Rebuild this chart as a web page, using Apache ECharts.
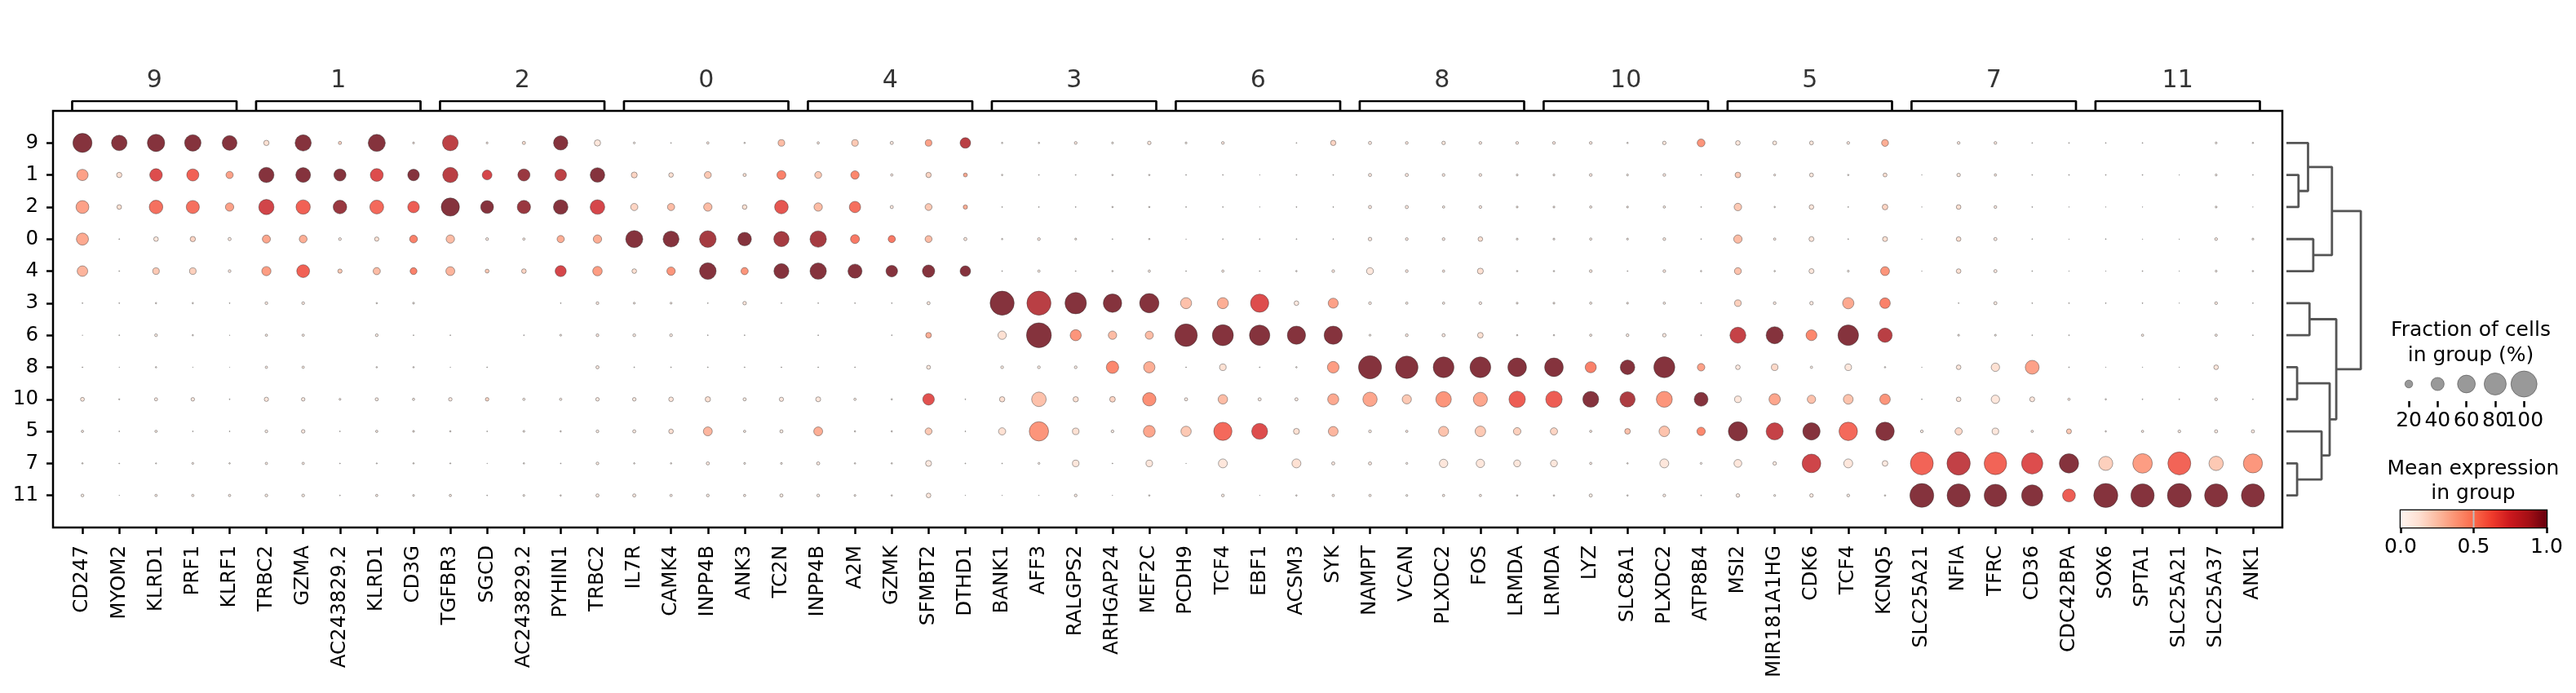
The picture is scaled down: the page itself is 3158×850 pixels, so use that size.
<!DOCTYPE html>
<html>
<head>
<meta charset="utf-8">
<script src="https://cdn.jsdelivr.net/npm/echarts@6/dist/echarts.min.js"></script>
<style>html,body{margin:0;padding:0;background:#fff}#c{width:3158px;height:850px}</style>
</head>
<body>
<div id="c"></div>
<script>
// ---------------- DATA ----------------
const genes = ['CD247','MYOM2','KLRD1','PRF1','KLRF1','TRBC2','GZMA','AC243829.2','KLRD1','CD3G','TGFBR3','SGCD','AC243829.2','PYHIN1','TRBC2','IL7R','CAMK4','INPP4B','ANK3','TC2N','INPP4B','A2M','GZMK','SFMBT2','DTHD1','BANK1','AFF3','RALGPS2','ARHGAP24','MEF2C','PCDH9','TCF4','EBF1','ACSM3','SYK','NAMPT','VCAN','PLXDC2','FOS','LRMDA','LRMDA','LYZ','SLC8A1','PLXDC2','ATP8B4','MSI2','MIR181A1HG','CDK6','TCF4','KCNQ5','SLC25A21','NFIA','TFRC','CD36','CDC42BPA','SOX6','SPTA1','SLC25A21','SLC25A37','ANK1'];
const geneGroupLabels = ['9','1','2','0','4','3','6','8','10','5','7','11'];
const geneGroupStart = [0,5,10,15,20,25,30,35,40,45,50,55];
const geneGroupEnd   = [4,9,14,19,24,29,34,39,44,49,54,59];
const rowGroups = ['9','1','2','0','4','3','6','8','10','5','7','11'];

// fraction of cells in group (%) per row group
const fraction = [
 [66,50,58,54,47, 12,53,6,57,3, 51,3,6,45,15, 3,1,4,2,16, 4,16,6,16,30, 2,2,5,3,7, 3,5,0,1,12, 6,5,7,5,5, 5,5,2,7,20, 10,8,8,5,17, 0,5,5,1,1, 1,1,0,3,2],
 [33,12,38,36,18, 49,47,36,39,34, 49,27,36,34,46, 14,10,17,6,24, 17,22,4,12,8, 2,1,1,2,2, 1,1,0.5,1,1, 6,6,5,5,3, 3,5,3,5,1, 13,3,8,2,8, 0.5,7,4,1,1, 1,1,0.5,3,1],
 [39,10,42,40,22, 49,45,42,43,34, 62,39,41,46,46, 18,18,22,10,42, 22,33,6,17,9, 1,1,1,2,2, 1,1,0.5,1,1, 6,6,4,5,3, 3,4,3,4,1, 19,2,10,1,13, 0.5,10,5,1,0.5, 0.5,0.5,0,3,0.5],
 [36,1,10,12,6, 21,20,5,9,20, 22,5,4,18,22, 57,52,55,42,49, 54,24,18,17,6, 2,5,3,1,2, 0.5,1,1,1,1, 7,5,5,10,3, 3,4,3,5,1, 22,4,11,1,11, 0.5,10,6,1,0.5, 1,0.5,0.5,5,3],
 [30,1,16,16,5, 25,39,9,18,17, 24,8,10,32,26, 10,22,55,18,48, 54,44,34,37,30, 1,4,1,2,4, 1,4,1,2,5, 17,5,4,14,2, 2,5,1,5,2, 17,2,11,3,24, 0.5,10,6,1,0.5, 0.5,1,0.5,3,2],
 [1,1,2,2,1, 5,5,0,2,3, 0,0,0,1,5, 3,3,1,7,1, 1,1,1,6,0, 90,90,77,63,67, 32,32,62,10,28, 5,4,4,5,3, 3,4,3,4,1, 16,5,7,33,30, 0,1,6,1,1, 1,1,0.5,5,1],
 [0.5,1,5,2,0.5, 4,4,0,5,1, 1,0,1,3,5, 5,5,1,1,0, 1,0,1,13,0, 22,94,32,22,21, 82,75,72,62,62, 3,5,6,13,2, 2,4,5,7,1, 52,57,31,73,45, 0,3,3,1,1, 0,4,0,4,1],
 [1,0.5,2,0.5,0.3, 4,4,0,2,2, 0.5,1,0,0,6, 1,1,1,1,1, 1,1,0,8,0, 5,5,5,37,33, 1,16,1,2,34, 85,82,74,74,64, 64,32,46,75,19, 10,16,4,16,2, 0.5,10,22,43,1, 0.5,0.5,0.5,10,0],
 [8,1.5,6,7,1, 9,7,3,6,4, 7,7,4,4,7, 7,10,12,6,9, 11,4,2,34,1, 12,46,12,13,41, 6,26,6,6,32, 45,25,50,44,54, 54,52,49,52,43, 16,33,22,27,30, 1,10,22,11,4, 2,1,1,5,1],
 [4,1,4,1,1, 5,7,1,4,3, 2,1,3,2,5, 6,10,24,4,6, 24,2,2,17,1, 18,67,16,5,35, 29,62,52,14,27, 5,4,28,30,19, 18,4,13,30,22, 66,57,58,63,63, 5,18,16,4,11, 2,4,5,6,6],
 [2,1,1.5,3,2, 4,4,1,1.5,2, 1.5,0.5,2,1,5, 2,2,6,3,3, 6,2,2,14,1, 1,3,16,1,16, 0.5,24,0,24,6, 6,3,22,22,17, 17,4,2,24,3, 20,7,64,24,13, 84,86,82,76,67, 44,68,84,45,66],
 [5,0.5,4,4,4, 5,5,1,4,3, 4,1,3,2,6, 6,4,5,4,6, 5,3,2,10,0.5, 0.5,0.5,5,0.5,2, 0,5,0.5,2,4, 4,3,4,4,2, 2,6,2,5,1, 7,3,7,5,2, 89,85,82,76,39, 90,86,89,85,85]
];
// mean expression in group (scaled 0..1) per row group
const meanExpr = [
 [1,1,1,1,1, 0.15,1,0.2,1,0.1, 0.85,0.1,0.15,1,0.12, 0.05,0.05,0.1,0.05,0.3, 0.1,0.25,0.1,0.4,0.87, 0.05,0.05,0.1,0.05,0.12, 0.05,0.1,0,0.05,0.2, 0.1,0.1,0.12,0.1,0.1, 0.1,0.1,0.05,0.12,0.45, 0.12,0.12,0.12,0.1,0.35, 0,0.1,0.1,0.05,0.05, 0.05,0.05,0,0.05,0.05],
 [0.4,0.15,0.72,0.63,0.4, 1,1,1,0.72,1, 0.87,0.75,0.95,0.85,1, 0.2,0.15,0.25,0.15,0.52, 0.25,0.5,0.1,0.2,0.38, 0.05,0.05,0.05,0.05,0.05, 0.05,0.05,0.05,0.05,0.05, 0.1,0.1,0.1,0.1,0.08, 0.08,0.1,0.08,0.1,0.05, 0.25,0.1,0.12,0.05,0.15, 0.05,0.12,0.1,0.05,0.05, 0.05,0.05,0.05,0.08,0.05],
 [0.4,0.15,0.58,0.58,0.4, 0.77,0.63,0.95,0.6,0.65, 1,1,0.95,1,0.75, 0.2,0.3,0.3,0.15,0.68, 0.3,0.58,0.1,0.25,0.35, 0.05,0.05,0.05,0.05,0.05, 0.05,0.05,0.05,0.05,0.05, 0.1,0.1,0.08,0.1,0.08, 0.08,0.08,0.08,0.08,0.05, 0.25,0.05,0.12,0.05,0.2, 0.05,0.15,0.1,0.05,0.05, 0.05,0.05,0,0.08,0.05],
 [0.37,0.05,0.12,0.2,0.1, 0.38,0.35,0.1,0.15,0.52, 0.3,0.1,0.1,0.35,0.35, 1,1,0.92,1,0.92, 0.92,0.55,0.55,0.3,0.12, 0.05,0.1,0.08,0.05,0.05, 0.05,0.05,0.05,0.05,0.05, 0.1,0.1,0.1,0.15,0.08, 0.08,0.08,0.08,0.1,0.05, 0.3,0.1,0.12,0.05,0.15, 0.05,0.15,0.1,0.05,0.05, 0.05,0.05,0.05,0.1,0.08],
 [0.33,0.05,0.25,0.22,0.1, 0.42,0.63,0.25,0.3,0.52, 0.33,0.25,0.2,0.75,0.42, 0.15,0.45,1,0.45,1, 1,1,1,1,1, 0.05,0.08,0.05,0.05,0.08, 0.05,0.08,0.05,0.05,0.1, 0.12,0.1,0.1,0.15,0.05, 0.05,0.1,0.05,0.1,0.05, 0.28,0.05,0.12,0.05,0.45, 0.05,0.15,0.1,0.05,0.05, 0.05,0.05,0.05,0.08,0.05],
 [0.05,0.05,0.05,0.05,0.05, 0.1,0.1,0,0.05,0.05, 0,0,0,0.05,0.1, 0.08,0.08,0.05,0.12,0.05, 0.05,0.05,0.05,0.12,0, 1,0.87,1,1,1, 0.28,0.35,0.72,0.1,0.4, 0.1,0.08,0.08,0.1,0.08, 0.08,0.08,0.08,0.08,0.05, 0.22,0.1,0.1,0.37,0.52, 0,0.05,0.1,0.05,0.05, 0.05,0.05,0.05,0.1,0.05],
 [0.05,0.05,0.08,0.05,0.05, 0.08,0.08,0,0.08,0.05, 0.05,0,0.05,0.05,0.1, 0.08,0.08,0.05,0.05,0, 0.05,0,0.05,0.35,0, 0.15,1,0.45,0.3,0.3, 1,1,1,1,1, 0.05,0.1,0.1,0.15,0.05, 0.05,0.08,0.08,0.1,0.05, 0.82,1,0.5,1,0.87, 0,0.05,0.05,0.05,0.05, 0,0.08,0,0.08,0.05],
 [0.05,0.05,0.05,0.05,0.05, 0.08,0.08,0,0.05,0.05, 0.05,0.05,0,0,0.1, 0.05,0.05,0.05,0.05,0.05, 0.05,0.05,0,0.12,0, 0.08,0.08,0.08,0.5,0.35, 0.05,0.15,0.05,0.05,0.42, 1,1,1,1,1, 1,0.52,1,1,0.4, 0.1,0.18,0.05,0.12,0.05, 0.05,0.12,0.15,0.4,0.05, 0.05,0.05,0.05,0.12,0],
 [0.12,0.05,0.1,0.1,0.05, 0.12,0.1,0.08,0.1,0.08, 0.1,0.2,0.08,0.08,0.1, 0.1,0.12,0.15,0.1,0.1, 0.12,0.08,0.05,0.7,0.05, 0.15,0.28,0.15,0.2,0.47, 0.1,0.3,0.1,0.1,0.37, 0.38,0.25,0.45,0.38,0.65, 0.65,1,0.9,0.45,1, 0.12,0.38,0.28,0.27,0.45, 0.05,0.12,0.12,0.12,0.1, 0.05,0.05,0.05,0.1,0.05],
 [0.08,0.05,0.08,0.05,0.05, 0.08,0.1,0.05,0.08,0.08, 0.05,0.05,0.05,0.05,0.08, 0.1,0.15,0.32,0.08,0.1, 0.35,0.05,0.05,0.25,0.05, 0.15,0.45,0.15,0.1,0.38, 0.25,0.6,0.72,0.15,0.32, 0.1,0.1,0.27,0.25,0.22, 0.2,0.1,0.28,0.27,0.5, 1,0.82,1,0.6,1, 0.1,0.18,0.12,0.1,0.25, 0.05,0.08,0.1,0.1,0.1],
 [0.05,0.05,0.05,0.08,0.05, 0.08,0.08,0.05,0.05,0.05, 0.05,0.05,0.05,0.05,0.08, 0.05,0.05,0.1,0.05,0.05, 0.1,0.05,0.05,0.1,0.05, 0.05,0.05,0.12,0.05,0.12, 0.05,0.12,0,0.15,0.1, 0.1,0.05,0.12,0.12,0.12, 0.12,0.08,0.05,0.12,0.05, 0.12,0.1,0.78,0.12,0.1, 0.62,0.83,0.62,0.72,1, 0.22,0.42,0.62,0.25,0.44],
 [0.08,0.05,0.08,0.08,0.08, 0.08,0.08,0.05,0.08,0.05, 0.08,0.05,0.05,0.05,0.1, 0.1,0.08,0.08,0.08,0.1, 0.08,0.05,0.05,0.12,0.05, 0.05,0.05,0.08,0.05,0.05, 0,0.08,0.05,0.05,0.08, 0.08,0.05,0.08,0.08,0.05, 0.05,0.08,0.05,0.08,0.05, 0.1,0.05,0.1,0.08,0.05, 1,1,1,1,0.65, 1,1,1,1,1]
];

// dendrogram (scipy-style linkage: leaves 0..11 are rows, merges get ids 12..)
const dendroLeft   = [7, 10, 1, 0, 5, 3, 9, 12, 15, 16, 20];
const dendroRight  = [8, 11, 2, 14, 6, 4, 13, 18, 17, 19, 21];
const dendroHeight = [1.31, 1.31, 1.48, 2.65, 2.83, 3.29, 4.31, 5.30, 5.58, 6.11, 9.12];

// legends
const sizeLegendValues = [20, 40, 60, 80, 100];
const colorbarTicks = [0, 0.5, 1];

// ---------------- HELPERS ----------------
const FONT = 'DejaVu Sans';
const REDS = [[255,245,240],[254,224,210],[252,187,161],[252,146,114],[251,106,74],[239,59,44],[203,24,29],[165,15,21],[103,0,13]];
function reds(t){
  t = Math.max(0, Math.min(1, t));
  const s = t * 8, i = Math.min(7, Math.floor(s)), f = s - i;
  const a = REDS[i], b = REDS[i+1];
  return 'rgb(' + [0,1,2].map(k => Math.round(a[k] + (b[k]-a[k])*f)).join(',') + ')';
}
const MAXDOT = 32;
function dotSize(pct){ return MAXDOT * Math.pow(pct/100, 0.75); }

// main dots
const dots = [];
fraction.forEach((row, r) => row.forEach((f, c) => {
  if (f > 0) dots.push({value: [c, r, f, meanExpr[r][c]], itemStyle: {color: reds(meanExpr[r][c])}});
}));

// dendrogram polylines
const dNodes = rowGroups.map((_, i) => ({y: i, h: 0}));
const dendroSeries = [];
dendroLeft.forEach((L, m) => {
  const a = dNodes[L], b = dNodes[dendroRight[m]], h = dendroHeight[m];
  dNodes.push({y: (a.y + b.y)/2, h: h});
  dendroSeries.push({
    type: 'line', xAxisIndex: 2, yAxisIndex: 2, silent: true, symbol: 'none', animation: false,
    lineStyle: {color: '#555555', width: 2.8},
    data: [[a.h, a.y], [h, a.y], [h, b.y], [b.h, b.y]]
  });
});

// brackets
const bracketSeries = geneGroupLabels.map((g, i) => ({
  type: 'line', xAxisIndex: 1, yAxisIndex: 1, silent: true, symbol: 'none', animation: false,
  lineStyle: {color: '#000', width: 2.7},
  data: [[geneGroupStart[i]-0.28, 0], [geneGroupStart[i]-0.28, 1], [geneGroupEnd[i]+0.19, 1], [geneGroupEnd[i]+0.19, 0]]
}));
const bracketLabels = {
  type: 'scatter', xAxisIndex: 1, yAxisIndex: 1, silent: true, symbolSize: 0, animation: false,
  label: {show: true, position: 'top', distance: 10, formatter: p => p.value[2], fontFamily: FONT, fontSize: 30, color: '#000'},
  data: geneGroupLabels.map((g, i) => [(geneGroupStart[i]-0.28 + geneGroupEnd[i]+0.19)/2, 1, g])
};

const redStops = REDS.map((c, i) => ({offset: i/8, color: 'rgb(' + c.join(',') + ')'}));

const option = {
  backgroundColor: '#fff',
  animation: false,
  grid: [
    {left: 65, top: 136, width: 2733, height: 511, show: true, borderColor: '#000', borderWidth: 2.5, backgroundColor: 'transparent'},
    {left: 65, top: 124, width: 2733, height: 13},
    {left: 2803, top: 155.65, width: 91.2, height: 471.7},
    {left: 2935.4, top: 450, width: 176.5, height: 42},
    {left: 2943, top: 626, width: 179, height: 21, show: true, borderColor: '#000', borderWidth: 2.5}
  ],
  xAxis: [
    {gridIndex: 0, type: 'value', min: -0.8, max: 59.8, position: 'bottom', splitLine: {show: false}, axisLine: {show: false, onZero: false},
     axisTick: {show: true, customValues: genes.map((_, i) => i), length: 8, lineStyle: {color: '#000', width: 2.5}},
     axisLabel: {customValues: genes.map((_, i) => i), rotate: 90, margin: 22, formatter: v => genes[Math.round(v)],
                 fontFamily: FONT, fontSize: 24.5, color: '#000'}},
    {gridIndex: 1, type: 'value', min: -0.8, max: 59.8, show: false},
    {gridIndex: 2, type: 'value', min: 0, max: 9.12, show: false},
    {gridIndex: 3, type: 'category', data: sizeLegendValues.map(String), axisLine: {show: false, onZero: false},
     axisTick: {show: true, alignWithLabel: true, length: 7.5, lineStyle: {color: '#000', width: 2.5}},
     axisLabel: {interval: 0, margin: 12, fontFamily: FONT, fontSize: 25, color: '#000'}},
    {gridIndex: 4, type: 'value', min: 0, max: 1, interval: 0.5, splitLine: {show: false}, axisLine: {show: false, onZero: false},
     axisTick: {show: true, length: 7, lineStyle: {color: '#000', width: 2.5}},
     axisLabel: {margin: 12, formatter: v => v.toFixed(1), fontFamily: FONT, fontSize: 25, color: '#000'}}
  ],
  yAxis: [
    {gridIndex: 0, type: 'value', min: -1, max: 12, inverse: true, position: 'left', splitLine: {show: false}, axisLine: {show: false, onZero: false},
     axisTick: {show: true, customValues: rowGroups.map((_, i) => i), length: 8, lineStyle: {color: '#000', width: 2.5}},
     axisLabel: {customValues: rowGroups.map((_, i) => i), margin: 18, formatter: v => rowGroups[Math.round(v)],
                 fontFamily: FONT, fontSize: 24.5, color: '#000'}},
    {gridIndex: 1, type: 'value', min: 0, max: 1, show: false},
    {gridIndex: 2, type: 'value', min: -0.5, max: 11.5, inverse: true, show: false},
    {gridIndex: 3, type: 'value', min: 0, max: 1, show: false},
    {gridIndex: 4, type: 'value', min: 0, max: 1, show: false}
  ],
  graphic: [
    {type: 'text', x: 3029, y: 390, style: {text: 'Fraction of cells\nin group (%)', font: '25px "DejaVu Sans"', lineHeight: 31, textAlign: 'center', textVerticalAlign: 'top', fill: '#000'}},
    {type: 'text', x: 3032, y: 560, style: {text: 'Mean expression\nin group', font: '25px "DejaVu Sans"', lineHeight: 30, textAlign: 'center', textVerticalAlign: 'top', fill: '#000'}}
  ],
  series: [
    {type: 'scatter', xAxisIndex: 0, yAxisIndex: 0, silent: true, animation: false, z: 3,
     symbolSize: v => dotSize(v[2]),
     itemStyle: {borderColor: 'rgba(40,40,40,0.75)', borderWidth: 0.7},
     data: dots},
    ...bracketSeries,
    bracketLabels,
    ...dendroSeries,
    {type: 'scatter', xAxisIndex: 3, yAxisIndex: 3, silent: true, animation: false,
     symbolSize: v => dotSize(v[2]),
     itemStyle: {color: '#808080', borderColor: 'rgba(40,40,40,0.8)', borderWidth: 0.7},
     data: sizeLegendValues.map((v, i) => [i, 0.5, v])},
    {type: 'custom', xAxisIndex: 4, yAxisIndex: 4, silent: true, animation: false, z: 1,
     renderItem: (params, api) => {
       const p0 = api.coord([0, 1]), p1 = api.coord([1, 0]);
       return {type: 'rect', shape: {x: p0[0], y: p0[1], width: p1[0]-p0[0], height: p1[1]-p0[1]},
               style: {fill: new echarts.graphic.LinearGradient(0, 0, 1, 0, redStops)}};
     },
     data: [[0, 0]]},
    {type: 'line', xAxisIndex: 4, yAxisIndex: 4, silent: true, symbol: 'none', animation: false, z: 2,
     lineStyle: {color: '#bdbdbd', width: 2}, data: [[0.5, 0], [0.5, 1]]}
  ]
};
const chart = echarts.init(document.getElementById('c'), null, {renderer: 'canvas'});
chart.setOption(option);
</script>
</body>
</html>
